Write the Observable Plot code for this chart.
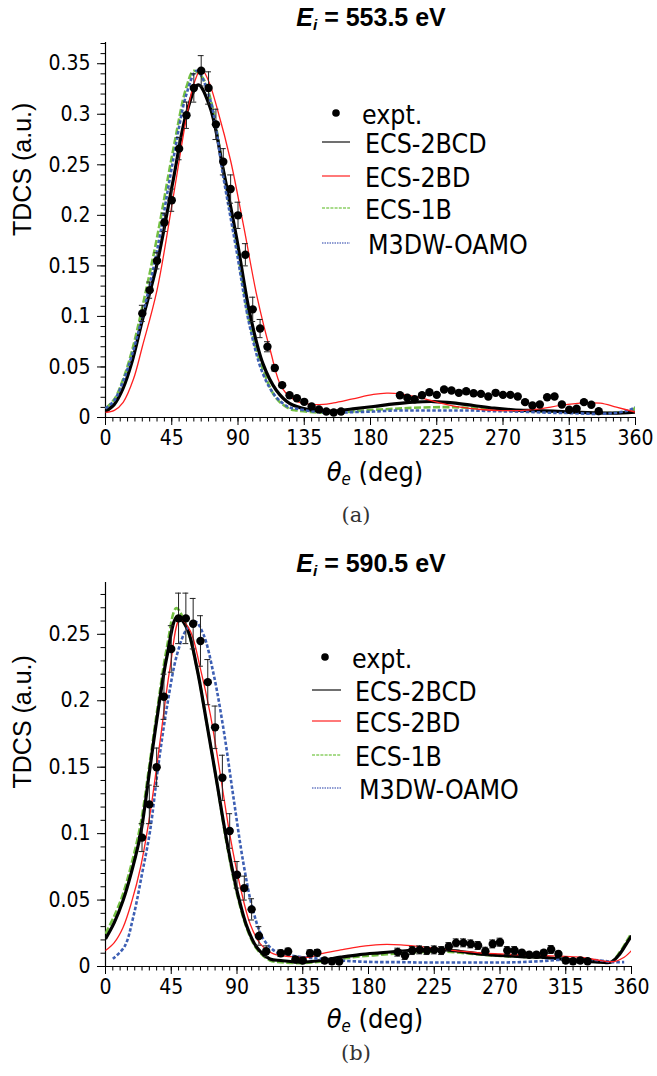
<!DOCTYPE html>
<html><head><meta charset="utf-8">
<script src="https://cdn.jsdelivr.net/npm/d3@7"></script>
<script src="https://cdn.jsdelivr.net/npm/@observablehq/plot@0.6"></script>
<style>
body{margin:0;background:#fff;}
#root{position:relative;width:657px;height:1076px;overflow:hidden;background:#fff;}
.abs{position:absolute;white-space:nowrap;transform:translate(-50%,-50%);line-height:1;}
.title{font-family:'Liberation Sans',Arial,sans-serif;font-weight:bold;font-size:25px;}
.title sub{font-size:0.62em;vertical-align:-0.25em;}
.xlab{font-family:'DejaVu Sans Condensed','DejaVu Sans',sans-serif;font-stretch:condensed;font-size:27px;}
.xlab sub{font-size:0.62em;vertical-align:-0.25em;}
.cap{font-family:'DejaVu Serif','Liberation Serif',serif;font-size:21px;color:#333;}
.leg{position:absolute;font-family:'DejaVu Sans Condensed','DejaVu Sans',sans-serif;font-stretch:condensed;font-size:26.5px;white-space:nowrap;transform:translateY(-50%);line-height:1;}
.sw{position:absolute;}
</style></head><body><div id="root"></div><script>
// ---------- Panel (a): Ei = 553.5 eV ----------
const exptAngA = [25,30,35,40,45,50,55,60,65,70,75,80,85,90,95,100,105,110,115,120,125,130,135,140,145,150,155,160,
  200,205,210,215,220,225,230,235,240,245,250,255,260,265,270,275,280,285,290,295,300,305,310,315,320,325,330,335];
const exptValA = [0.103,0.126,0.155,0.193,0.215,0.266,0.299,0.326,0.343,0.326,0.290,0.253,0.226,0.200,0.161,0.107,0.088,0.070,0.049,0.032,0.022,0.019,0.0155,0.011,0.008,0.006,0.005,0.006,
  0.022,0.0195,0.018,0.022,0.025,0.0224,0.0277,0.0267,0.0244,0.026,0.024,0.0234,0.0208,0.0244,0.0224,0.0224,0.0208,0.0152,0.0119,0.0129,0.0201,0.0208,0.0129,0.0076,0.0086,0.0152,0.0126,0.0063];
const exptErrA = [0.008,0.008,0.008,0.009,0.011,0.011,0.013,0.014,0.015,0.016,0.015,0.013,0.014,0.013,0.011,0.012,0.009,0.005,0.003,0.002,0.0015,0.0015,0.0015,0.0015,0.0015,0.0015,0.002,0.0015,
  0.0015,0.0015,0.0015,0.0015,0.0015,0.0015,0.0015,0.0015,0.0015,0.0015,0.0015,0.0015,0.0015,0.0015,0.0015,0.0015,0.0015,0.0015,0.0015,0.0015,0.0015,0.0015,0.0015,0.0015,0.0015,0.0015,0.0015,0.0015];

const bcdAngA = [0,6,12,18,25,35,46,55,63,71,80,89,98,107,116,125,137,148,155,168,182,196,209,223,236,250,264,277,291,304,318,332,345,360];
const bcdValA = [0.006,0.013,0.029,0.055,0.096,0.152,0.235,0.301,0.329,0.307,0.245,0.178,0.103,0.053,0.027,0.014,0.008,0.0065,0.0063,0.0086,0.0109,0.0135,0.0152,0.0158,0.0145,0.0119,0.0092,0.0076,0.0069,0.0063,0.0053,0.0046,0.0043,0.0053];

const bdAngA = [0,6,12,19,25,35,46,55,60,65,70,76,85,94,103,112,120,130,139,148,155,168,182,191,200,214,227,241,255,268,282,295,309,323,336,347,360];
const bdValA = [0.005,0.007,0.015,0.038,0.070,0.126,0.218,0.297,0.330,0.345,0.333,0.305,0.254,0.188,0.119,0.066,0.029,0.016,0.0133,0.0129,0.0145,0.0185,0.0228,0.0241,0.0234,0.0195,0.0145,0.0102,0.0079,0.0069,0.0069,0.0086,0.0119,0.0142,0.0142,0.0102,0.0053];

const b1AngA = [0,6,12,18,25,35,46,55,60,66,71,80,89,98,107,116,125,130,141,155,168,182,196,209,223,236,250,264,277,291,304,318,332,345,355,360];
const b1ValA = [0.009,0.018,0.038,0.066,0.109,0.178,0.265,0.327,0.343,0.336,0.317,0.245,0.172,0.093,0.047,0.019,0.0086,0.0069,0.0053,0.0046,0.0059,0.0076,0.0086,0.0096,0.0102,0.0102,0.0092,0.0076,0.0069,0.0063,0.0059,0.0053,0.0046,0.0046,0.006,0.0096];

const m3AngA = [0,6,12,18,25,35,46,55,62,71,80,89,98,107,116,125,130,141,155,168,182,196,209,223,236,250,264,277,291,304,318,332,345,355,360];
const m3ValA = [0.009,0.017,0.036,0.062,0.100,0.165,0.255,0.320,0.343,0.315,0.238,0.165,0.090,0.043,0.020,0.0099,0.0086,0.0059,0.0046,0.0053,0.0059,0.0069,0.0069,0.0069,0.0069,0.0069,0.0063,0.0059,0.0053,0.0046,0.0043,0.0036,0.0043,0.007,0.0102];

// ---------- Panel (b): Ei = 590.5 eV ----------
const exptAngB = [25,30,35,40,45,50,55,60,65,70,75,80,85,90,95,100,105,110,
  120,125,130,135,140,145,150,155,160,
  200,205,210,215,220,225,230,235,240,245,250,255,260,265,270,275,280,285,290,295,300,305,310,315,320,325,330];
const exptValB = [0.097,0.122,0.150,0.203,0.239,0.262,0.262,0.258,0.245,0.214,0.180,0.142,0.102,0.069,0.059,0.043,0.023,0.0115,
  0.010,0.0113,0.0053,0.0045,0.010,0.0103,0.0045,0.004,0.0037,
  0.0108,0.0083,0.012,0.0125,0.012,0.0125,0.012,0.015,0.0178,0.0178,0.017,0.0158,0.0115,0.017,0.0183,0.012,0.012,0.0103,0.0088,0.0088,0.0103,0.0128,0.0095,0.0045,0.004,0.0045,0.004];
const exptErrB = [0.0105,0.0145,0.0144,0.017,0.0175,0.019,0.019,0.019,0.019,0.017,0.016,0.017,0.013,0.010,0.009,0.008,0.007,0.004,
  0.0025,0.0025,0.002,0.002,0.0025,0.0025,0.002,0.002,0.002,
  0.003,0.003,0.003,0.003,0.003,0.003,0.003,0.003,0.003,0.003,0.003,0.003,0.003,0.003,0.003,0.003,0.003,0.002,0.002,0.002,0.002,0.003,0.002,0.002,0.002,0.002,0.002];

const bcdAngB = [0,6,12,18,24,30.5,35,42,49,55.6,62.5,69,76,83,90,97,103.5,112.6,120,133,147,161,174,188,202,215,229,243,256,270,284,298,311,325,339,346,352,357,360];
const bcdValB = [0.0208,0.033,0.0496,0.072,0.0997,0.150,0.185,0.233,0.263,0.255,0.225,0.185,0.140,0.0947,0.057,0.0294,0.0145,0.0057,0.0045,0.0033,0.0045,0.007,0.009,0.0103,0.0115,0.0125,0.0128,0.0113,0.0095,0.0083,0.0075,0.007,0.0058,0.0045,0.0033,0.0033,0.0095,0.018,0.023];

const bdAngB = [0,6,12,18,24,30.5,37.4,44.2,51,58,64.8,71.7,78.5,85.4,92.3,99,106,115,126.5,140,147,161,174,188,202,215,229,243,256,270,284,298,311,325,339,348,355,360];
const bdValB = [0.012,0.018,0.0294,0.049,0.0747,0.115,0.170,0.225,0.2614,0.2526,0.225,0.190,0.145,0.0973,0.0596,0.032,0.017,0.0095,0.0075,0.007,0.0095,0.0125,0.015,0.0165,0.0163,0.015,0.0133,0.0115,0.0103,0.0095,0.0088,0.0083,0.0078,0.007,0.0045,0.0037,0.007,0.012];

const b1AngB = [0,6,12,18,24,30.5,35,42,48.5,55.6,62.5,69,76,83,90,97,103.5,112.6,120,133,147,161,174,188,202,215,229,243,256,270,284,298,311,325,339,346,352,357,360];
const b1ValB = [0.0246,0.038,0.0546,0.078,0.107,0.155,0.190,0.240,0.2697,0.255,0.225,0.185,0.140,0.0922,0.0546,0.028,0.0133,0.0045,0.0033,0.0025,0.0037,0.0058,0.0075,0.0088,0.010,0.0108,0.0113,0.0103,0.009,0.008,0.0073,0.0068,0.0058,0.0045,0.0033,0.0033,0.0108,0.0196,0.0251];

const m3AngB = [5,13,19,25,30.5,36,42,49,55.6,61.4,67,74,81,87.6,94.5,101,108,117,126.5,140,147,161,174,188,202,215,229,243,256,270,284,298,311,325,339,348,355];
const m3ValB = [0.0058,0.0150,0.0372,0.0697,0.102,0.150,0.195,0.235,0.254,0.2596,0.250,0.220,0.177,0.127,0.077,0.0421,0.0208,0.0108,0.0083,0.0065,0.0058,0.0045,0.0037,0.0033,0.0033,0.003,0.003,0.003,0.003,0.003,0.0033,0.004,0.005,0.0053,0.0045,0.0033,0.0033];

// ---------- labels / ticks ----------
const seriesNames = ["expt.","ECS-2BCD","ECS-2BD","ECS-1B","M3DW-OAMO"];
const xTickLabels = [0,45,90,135,180,225,270,315,360];
const yTickLabelsA = [0,0.05,0.1,0.15,0.2,0.25,0.3,0.35];
const yTickLabelsB = [0,0.05,0.1,0.15,0.2,0.25];
const titleEnergies = ["553.5","590.5"];
const captions = ["(a)","(b)"];
const yLabel = "TDCS (a.u.)";

// ---------- styles ----------
const sty = {
  "ECS-2BCD": {stroke:"#000", strokeWidth:3.2, dash:null, legStroke:"#222", legW:1.3, legDash:null},
  "ECS-2BD": {stroke:"#ff1f1f", strokeWidth:1.3, dash:null, legStroke:"#ff3030", legW:1.3, legDash:null},
  "ECS-1B": {stroke:"#74c043", strokeWidth:2.6, dash:"7 2.5", legStroke:"#8ccf66", legW:1.6, legDash:"3 1.2"},
  "M3DW-OAMO": {stroke:"#3d5fb4", strokeWidth:2.6, dash:"3.5 2", legStroke:"#6a7cc4", legW:1.6, legDash:"1.5 1"}
};

const root = document.getElementById("root");
const pts = (xs, ys) => xs.map((x,i)=>({x, y: ys[i]}));
const fmt = d => String(+(+d).toFixed(2));

function panel(cfg){
  const expt = cfg.ang.map((x,i)=>({x, y: cfg.val[i], e: cfg.err[i]}));
  const lineMark = (name, xs, ys) => Plot.line(pts(xs, ys), {x:"x", y:"y", stroke: sty[name].stroke, strokeWidth: sty[name].strokeWidth,
    strokeDasharray: sty[name].dash || undefined, strokeLinecap:"butt", strokeLinejoin:"round", curve:"catmull-rom", clip:true});
  const svg = Plot.plot({
    width: 657, height: 450,
    marginTop: cfg.mt, marginBottom: cfg.mb, marginLeft: 105, marginRight: cfg.mr,
    x: {domain:[0,360]},
    y: {domain:[0, cfg.ytop]},
    style: {fontFamily:"'DejaVu Sans Condensed','DejaVu Sans',sans-serif", fontStretch:"condensed", fontSize:"21px", color:"#000", background:"transparent", overflow:"visible"},
    marks: [
      Plot.axisX({ticks: d3.range(0,361,5), tickSize:4.5, tickFormat:()=>"", label:null}),
      Plot.axisX({ticks: xTickLabels, tickSize:8, tickPadding:5, tickFormat:d=>String(d), label:null}),
      Plot.axisY({ticks: d3.range(0, cfg.ytop, 0.01), tickSize:4.5, tickFormat:()=>"", label:null}),
      Plot.axisY({ticks: cfg.yticks, tickSize:8, tickPadding:7, tickFormat:fmt, label:null}),
      Plot.ruleY([0], {stroke:"#000", strokeWidth:1.2}),
      Plot.ruleX([0], {stroke:"#000", strokeWidth:1.2}),
      lineMark("ECS-1B", cfg.b1Ang, cfg.b1Val),
      lineMark("ECS-2BCD", cfg.bcdAng, cfg.bcdVal),
      lineMark("M3DW-OAMO", cfg.m3Ang, cfg.m3Val),
      lineMark("ECS-2BD", cfg.bdAng, cfg.bdVal),
      Plot.ruleX(expt, {x:"x", y1:d=>d.y-d.e, y2:d=>d.y+d.e, stroke:"#222", strokeWidth:1}),
      Plot.ruleY(expt, {y:d=>d.y+d.e, x1:d=>d.x-2, x2:d=>d.x+2, stroke:"#222", strokeWidth:1}),
      Plot.ruleY(expt, {y:d=>d.y-d.e, x1:d=>d.x-2, x2:d=>d.x+2, stroke:"#222", strokeWidth:1}),
      Plot.dot(expt, {x:"x", y:"y", r:4.2, fill:"#000", stroke:"none"}),
      Plot.text([yLabel], {frameAnchor:"left", rotate:-90, dx:-83, dy:cfg.ylabDy, fontSize:25, fontFamily:"'Liberation Sans',Arial,sans-serif", fontStretch:"normal", fill:"#000"})
    ]
  });
  svg.style.position = "absolute";
  svg.style.left = "0px";
  svg.style.top = cfg.top + "px";
  root.appendChild(svg);

  const add = (cls, html, x, y) => { const d = document.createElement("div"); d.className = "abs " + cls; d.innerHTML = html; d.style.left = x+"px"; d.style.top = y+"px"; root.appendChild(d); return d; };
  add("title", `<i>E</i><sub><i>i</i></sub> = ${cfg.energy} eV`, cfg.titleX, cfg.titleY);
  add("xlab", `<i>θ</i><sub><i>e</i></sub> (deg)`, cfg.xlabX, cfg.xlabY);
  add("cap", cfg.caption, 356, cfg.capY);

  // legend
  const L = cfg.leg;
  const dotSvg = document.createElementNS("http://www.w3.org/2000/svg","svg");
  dotSvg.setAttribute("width", 12); dotSvg.setAttribute("height", 12);
  dotSvg.innerHTML = `<circle cx="6" cy="6" r="3.8" fill="#000"/>`;
  dotSvg.setAttribute("class","sw"); dotSvg.style.left = (L.dotX-6)+"px"; dotSvg.style.top = (L.ys[0]-6)+"px";
  root.appendChild(dotSvg);
  seriesNames.forEach((name,i)=>{
    const t = document.createElement("div"); t.className = "leg"; t.textContent = name;
    t.style.left = L.textX[i] + "px"; t.style.top = (L.ys[i] + 2) + "px"; root.appendChild(t);
    if (i > 0) {
      const s = sty[name];
      const sw = document.createElementNS("http://www.w3.org/2000/svg","svg");
      const w = L.x2 - L.x1;
      sw.setAttribute("width", w); sw.setAttribute("height", 6); sw.setAttribute("class","sw");
      sw.innerHTML = `<line x1="0" x2="${w}" y1="3" y2="3" stroke="${s.legStroke}" stroke-width="${s.legW}" ${s.legDash?`stroke-dasharray="${s.legDash}"`:""}/>`;
      sw.style.left = L.x1+"px"; sw.style.top = (L.ys[i]-3)+"px"; root.appendChild(sw);
    }
  });
}

panel({top:0, mt:42, mb:33, mr:22, ytop:0.371, yticks:yTickLabelsA, ylabDy:6,
  ang:exptAngA, val:exptValA, err:exptErrA,
  bcdAng:bcdAngA, bcdVal:bcdValA, bdAng:bdAngA, bdVal:bdValA, b1Ang:b1AngA, b1Val:b1ValA, m3Ang:m3AngA, m3Val:m3ValA,
  energy:titleEnergies[0], titleX:371, titleY:19, xlabX:375, xlabY:473, caption:captions[0], capY:515,
  leg:{dotX:336, x1:322, x2:350, textX:[362,365,365,365,368], ys:[113,142,176,208,243]}});

panel({top:548, mt:34, mb:32, mr:26, ytop:0.289, yticks:yTickLabelsB, ylabDy:14,
  ang:exptAngB, val:exptValB, err:exptErrB,
  bcdAng:bcdAngB, bcdVal:bcdValB, bdAng:bdAngB, bdVal:bdValB, b1Ang:b1AngB, b1Val:b1ValB, m3Ang:m3AngB, m3Val:m3ValB,
  energy:titleEnergies[1], titleX:371, titleY:565, xlabX:375, xlabY:1020, caption:captions[1], capY:1053,
  leg:{dotX:325, x1:312, x2:341, textX:[352,355,355,355,359], ys:[657,690,721,755,788]}});
</script></body></html>
